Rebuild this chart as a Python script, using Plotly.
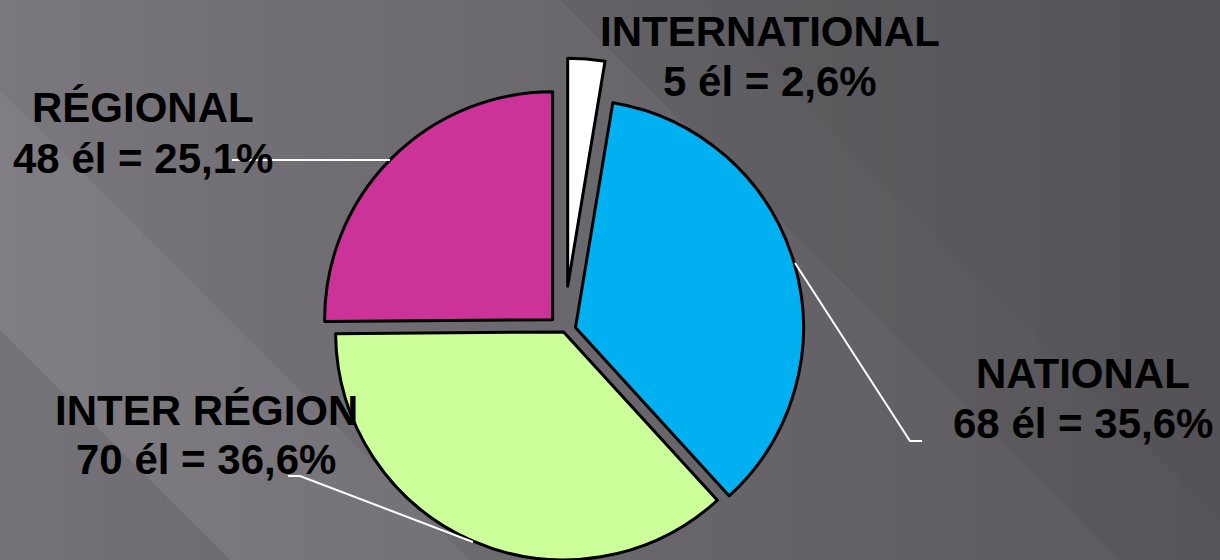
import math
import plotly.graph_objects as go

# ---- data ----
labels = ["INTERNATIONAL", "NATIONAL", "INTER RÉGION", "RÉGIONAL"]
counts = [5, 68, 70, 48]
colors = ["#FFFFFF", "#00B0F0", "#CCFF99", "#CC3399"]

# ---- layout / style ----
W, H = 1220, 560
CX, CY, R = 564, 331, 228
pull_px = [45, 12, 1, 16]          # explosion distance of each slice (px)
label_pos = [(770, 31, 81), (1083, 373, 423), (206, 411, 459), (143, 108, 158)]
FONT = dict(family="Liberation Sans, Arial, sans-serif", size=42, color="black")
BG = (123, 121, 127)


def px(x, y):
    return x / W, 1 - y / H


total = sum(counts)
fig = go.Figure()
cum = 0
for k, v in enumerate(counts):
    mid = (cum + v / 2) / total * 2 * math.pi
    cum += v
    cx = CX + pull_px[k] * math.sin(mid)
    cy = CY - pull_px[k] * math.cos(mid)
    fig.add_trace(go.Pie(
        values=counts, labels=labels, sort=False, direction="clockwise", rotation=0,
        marker=dict(colors=[colors[i] if i == k else "rgba(0,0,0,0)" for i in range(len(counts))],
                    line=dict(color="black", width=[3 if i == k else 0 for i in range(len(counts))])),
        textinfo="none", hoverinfo="skip", showlegend=False,
        domain=dict(x=[(cx - R) / W, (cx + R) / W],
                    y=[max(0, 1 - (cy + R) / H), min(1, 1 - (cy - R) / H)]),
    ))

# ---- labels ----
annotations = []
for k, (lx, y1, y2) in enumerate(label_pos):
    pct = f"{counts[k] / total * 100:.1f}".replace(".", ",")
    for txt, yy in ((labels[k], y1), (f"{counts[k]} él = {pct}%", y2)):
        x, y = px(lx, yy)
        annotations.append(dict(text=f"<b>{txt}</b>", x=x, y=y, xref="paper", yref="paper",
                                xanchor="center", yanchor="middle", showarrow=False, font=FONT))

# ---- background (gradient + diagonal bands) and leader lines ----
def path(points):
    s = ""
    for i, (x, y) in enumerate(points):
        X, Y = px(x, y)
        s += ("M" if i == 0 else "L") + f"{X:.5f},{Y:.5f} "
    return s


shapes = []
NSTRIP = 60
for i in range(NSTRIP):
    x0 = i * W / NSTRIP
    x1 = (i + 1) * W / NSTRIP + 2
    f = 1 - 0.26 * ((i + 0.5) / NSTRIP) ** 0.8
    col = "rgb({},{},{})".format(*[round(c * f) for c in BG])
    shapes.append(dict(type="rect", xref="paper", yref="paper", x0=x0 / W, x1=min(x1, W) / W,
                       y0=0, y1=1, fillcolor=col, line=dict(width=0), layer="below"))

bands = [
    ([(560, 0), (1220, 0), (1220, 660)], "rgba(0,0,0,0.05)"),
    ([(700, 0), (1220, 0), (1220, 520)], "rgba(0,0,0,0.03)"),
    ([(0, 90), (470, 560), (230, 560), (0, 330)], "rgba(255,255,255,0.05)"),
    ([(0, 330), (230, 560), (0, 560)], "rgba(0,0,0,0.04)"),
]
for pts, col in bands:
    shapes.append(dict(type="path", path=path(pts) + "Z", xref="paper", yref="paper",
                       fillcolor=col, line=dict(width=0), layer="below"))

leaders = [
    [(232, 160), (390, 160)],
    [(795, 263), (910, 441), (922, 441)],
    [(288, 476), (300, 476), (473, 542)],
]
for pts in leaders:
    shapes.append(dict(type="path", path=path(pts), xref="paper", yref="paper",
                       line=dict(color="white", width=2), layer="above"))

fig.update_layout(
    width=W, height=H,
    margin=dict(l=0, r=0, t=0, b=0),
    paper_bgcolor="rgb({},{},{})".format(*BG), plot_bgcolor="rgba(0,0,0,0)",
    annotations=annotations, shapes=shapes,
    showlegend=False,
)

fig.write_html("out.html", config={"displayModeBar": False},
               post_script="document.body.style.margin='0px';document.body.style.overflow='hidden';")
